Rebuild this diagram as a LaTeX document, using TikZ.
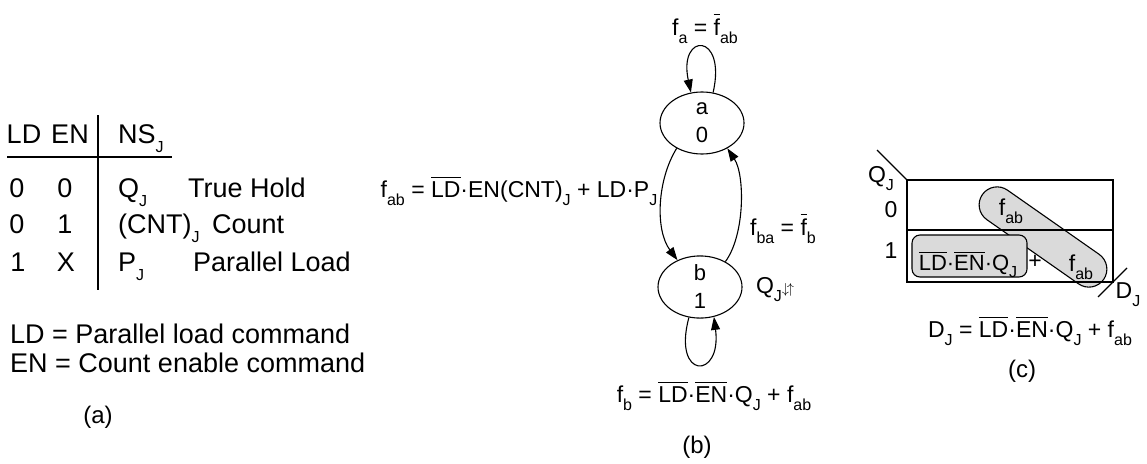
\documentclass[tikz,border=0pt]{standalone}
\usepackage{fontspec}
\setmainfont{Liberation Sans}
\usepackage{amsmath}
\usepackage{xcolor}
\usetikzlibrary{arrows.meta, positioning, shapes.geometric}
\definecolor{shade}{RGB}{218,218,218}
\newcommand{\fs}{\fontsize{24}{28}\selectfont}
\newcommand{\lo}[1]{\raisebox{-0.35em}{\fontsize{16}{16}\selectfont #1}}
\newcommand{\ovl}[1]{$\overline{\mbox{#1}}$}

\begin{document}
\begin{tikzpicture}[
  x=1pt, y=-1pt, font=\fs,
  lbl/.style={inner sep=0pt, anchor=base},
  tbl/.style={inner sep=0pt, anchor=base, font=\fontsize{27}{30}\selectfont},
  eqn/.style={inner sep=0pt, anchor=base, font=\fontsize{23}{28}\selectfont},
  state/.style={ellipse, draw, line width=1.1pt, minimum width=84pt,
                minimum height=62pt, inner sep=0pt, align=center,
                font=\fontsize{22}{28}\selectfont},
  arr/.style={-{Triangle[length=13pt,width=9pt]}, line width=1.1pt},
  rule/.style={line width=1.1pt},
  group/.style={draw, fill=shade, line width=1.1pt},
]
\useasboundingbox (0,0) rectangle (1147,463);

% (a) next-state table
\node[tbl] (hld) at (24,143) {LD};
\node[tbl] (hen) at (70,143) {EN};
\node[tbl, anchor=base west] (hns) at (118,143) {NS\lo{J}};
\draw[rule] (7,157) -- (172,157);
\draw[rule] (98,115) -- (98,290);

\node[tbl] (ld1) at (17,197) {0};
\node[tbl] (en1) at (65,197) {0};
\node[tbl, anchor=base west] (ns1) at (118,197) {Q\lo{J}};
\node[tbl, anchor=base west] (op1) at (188,197) {True Hold};

\node[tbl] (ld2) at (17,233) {0};
\node[tbl] (en2) at (65,233) {1};
\node[tbl, anchor=base west] (ns2) at (118,233) {(CNT)\lo{J}};
\node[tbl, anchor=base west] (op2) at (212,233) {Count};

\node[tbl] (ld3) at (18,271) {1};
\node[tbl] (en3) at (66,271) {X};
\node[tbl, anchor=base west] (ns3) at (118,271) {P\lo{J}};
\node[tbl, anchor=base west] (op3) at (193,271) {Parallel Load};

\node[tbl, anchor=base west] (ldkey) at (10,343) {LD = Parallel load command};
\node[tbl, anchor=base west] (enkey) at (10,372) {EN = Count enable command};
\node[lbl] (capa) at (98,423) {(a)};

% (b) state diagram
\node[state] (a) at (702,123) {a\\0};
\node[state] (b) at (700,287) {b\\1};
\draw[arr] (a.225) .. controls (657,180) and (655,230) .. (b.130);
\draw[arr] (b.45) .. controls (745,235) and (745,175) .. (a.-45);
\draw[arr] (a.70) .. controls (727,32) and (678,32) .. (a.110);
\draw[arr] (b.250) .. controls (672,380) and (722,380) .. (b.-65);

\node[eqn] (fa) at (705,35) {f\lo{a} = \ovl{f}\lo{ab}};
\node[eqn] (fab) at (519,197) {f\lo{ab} = \ovl{LD}·EN(CNT)\lo{J} + LD·P\lo{J}};
\node[eqn] (fba) at (783,235) {f\lo{ba} = \ovl{f}\lo{b}};
\node[eqn] (qj) at (775,293) {Q\lo{J}{\fontsize{14}{14}\selectfont$\downarrow\!\uparrow$}};
\node[eqn] (fb) at (714,402) {f\lo{b} = \ovl{LD}·\ovl{EN}·Q\lo{J} + f\lo{ab}};
\node[lbl] (capb) at (697,453) {(b)};

% (c) K-map
\node[group, rounded corners=18pt, minimum width=148pt, minimum height=36pt,
      rotate=-35] (pill) at (1043,237) {};
\node[group, rounded corners=8pt, minimum width=115pt,
      minimum height=42pt] (hold) at (969.5,256) {};
\draw[rule] (907,180) rectangle (1113,282);
\draw[rule] (907,230) -- (1113,230);
\draw[rule] (877,150) -- (907,180);
\draw[rule] (1098,297) -- (1127,268);

\node[eqn] (qlab) at (881,182) {Q\lo{J}};
\node[eqn] (r0) at (891,217) {0};
\node[eqn] (r1) at (891,258) {1};
\node[eqn] (dlab) at (1128,298) {D\lo{J}};
\node[eqn, font=\fontsize{22}{26}\selectfont] (tq) at (968,270) {\ovl{LD}·\ovl{EN}·Q\lo{J}};
\node[eqn] (plus) at (1035,268) {+};
\node[eqn] (fab1) at (1011,215) {f\lo{ab}};
\node[eqn] (fab2) at (1081,271) {f\lo{ab}};
\node[eqn] (deq) at (1030,337) {D\lo{J} = \ovl{LD}·\ovl{EN}·Q\lo{J} + f\lo{ab}};
\node[lbl] (capc) at (1022,377) {(c)};
\end{tikzpicture}
\end{document}
